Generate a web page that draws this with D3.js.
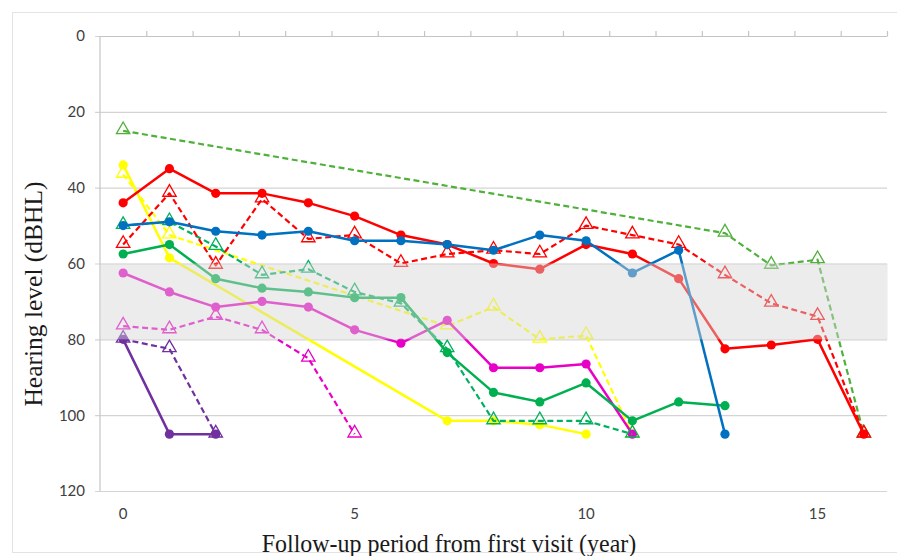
<!DOCTYPE html>
<html>
<head>
<meta charset="utf-8">
<script src="https://cdn.jsdelivr.net/npm/d3@7"></script>
<style>
  html, body { margin: 0; padding: 0; background: #fff; }
  svg { display: block; }
</style>
</head>
<body>
<svg id="chart" width="897" height="556"></svg>
<script>
// Follow-up years (category axis) and y-axis ticks
const years = d3.range(0, 17);
const yTicks = [0, 20, 40, 60, 80, 100, 120];
const xTickLabels = [0, 5, 10, 15];

// Hearing level (dBHL) per follow-up year; null = no measurement that year
const greenDashed  = [25, null, null, null, null, null, null, null, null, null, null, null, null, 52, 60.5, 59, 105];
const yellowDashed = [36.5, 52.5, null, null, null, null, null, 76.5, 71.5, 80, 79, 105];
const yellowSolid  = [34, 58.5, null, null, null, null, null, 101.5, 101.5, 102.5, 105];
const pinkDashed   = [76.5, 77.5, 74, 77.5, 85, 105];
const pinkSolid    = [62.5, 67.5, 71.5, 70, 71.5, 77.5, 81, 75, 87.5, 87.5, 86.5, 105];
const purpleDashed = [80, 82.5, 105];
const purpleSolid  = [80, 105, 105];
const tealDashed   = [50, 49, 55.5, 63, 61.5, 67.5, 70.5, 82.5, 101.5, 101.5, 101.5, 105];
const greenSolid   = [57.5, 55, 64, 66.5, 67.5, 69, 69, 83.5, 94, 96.5, 91.5, 101.5, 96.5, 97.5];
const redDashed    = [55, 41.5, 60.5, 43, 53.5, 52.5, 60, 57.5, 56.5, 57.5, 50, 52.5, 55, 63, 70.5, 74, 105];
const redSolid     = [44, 35, 41.5, 41.5, 44, 47.5, 52.5, 55, 60, 61.5, 55, 57.5, 64, 82.5, 81.5, 80, 105];
const blueSolid    = [50, 49, 51.5, 52.5, 51.5, 54, 54, 55, 56.5, 52.5, 54, 62.5, 56.5, 105];

// Shaded hearing-level range
const bandRange = [60, 80];

const series = [
  { values: greenDashed,  color: "#4fb03a", dashed: true },
  { values: yellowDashed, color: "#ffff00", dashed: true },
  { values: yellowSolid,  color: "#ffff00", dashed: false },
  { values: pinkDashed,   color: "#e800c6", dashed: true },
  { values: pinkSolid,    color: "#e800c6", dashed: false },
  { values: purpleDashed, color: "#7030a0", dashed: true },
  { values: purpleSolid,  color: "#7030a0", dashed: false },
  { values: tealDashed,   color: "#00b060", dashed: true },
  { values: greenSolid,   color: "#00b050", dashed: false },
  { values: redDashed,    color: "#ff0000", dashed: true },
  { values: redSolid,     color: "#ff0000", dashed: false },
  { values: blueSolid,    color: "#0070c0", dashed: false }
];

const svg = d3.select("#chart");
const W = 897;
const plot = { left: 100, right: 887, top: 36, bottom: 491 };

const x = d3.scaleLinear().domain([-0.5, 16.5]).range([plot.left, plot.right]);
const y = d3.scaleLinear().domain([0, 120]).range([plot.top, plot.bottom]);

// outer chart frame
svg.append("rect")
  .attr("x", 12.5).attr("y", 12.5)
  .attr("width", W).attr("height", 540)
  .attr("fill", "none").attr("stroke", "#e3e3e3").attr("stroke-width", 1);

// horizontal gridlines (extending 5px left of the axis as ticks)
const gy = svg.append("g")
  .attr("transform", `translate(${plot.right},0)`)
  .call(d3.axisLeft(y).tickValues(yTicks).tickSize(plot.right - plot.left + 5).tickFormat(""));
gy.select(".domain").remove();
gy.selectAll(".tick line").attr("stroke", "#d4d4d4").attr("stroke-width", 1.2);

// left axis line
svg.append("line")
  .attr("x1", plot.left).attr("x2", plot.left)
  .attr("y1", plot.top).attr("y2", plot.bottom)
  .attr("stroke", "#c4c4c4").attr("stroke-width", 1.2);

// y tick labels
svg.append("g").selectAll("text")
  .data(yTicks)
  .join("text")
  .attr("x", 85)
  .attr("y", d => y(d))
  .attr("dy", "0.36em")
  .attr("text-anchor", "end")
  .attr("font-family", "Lato, 'Open Sans', sans-serif")
  .attr("font-size", 15)
  .attr("fill", "#404040")
  .text(d => d);

// top category axis (value 0) with boundary ticks pointing up
const gx = svg.append("g")
  .attr("transform", `translate(0,${plot.top})`)
  .call(d3.axisTop(x).tickValues(years.map(d => d + 0.5)).tickSize(5).tickSizeOuter(0).tickFormat(""));
gx.select(".domain").attr("stroke", "#c4c4c4").attr("stroke-width", 1.2);
gx.selectAll(".tick line").attr("stroke", "#c4c4c4").attr("stroke-width", 1.2);

// x tick labels along the bottom
svg.append("g").selectAll("text")
  .data(xTickLabels)
  .join("text")
  .attr("x", d => x(d))
  .attr("y", 519)
  .attr("text-anchor", "middle")
  .attr("font-family", "Lato, 'Open Sans', sans-serif")
  .attr("font-size", 15)
  .attr("fill", "#404040")
  .text(d => d);

// series lines and markers
const line = d3.line()
  .x(d => x(d.year))
  .y(d => y(d.value));

const tri = d3.symbol().type(d3.symbolTriangle).size(78);

series.forEach(s => {
  const pts = s.values
    .map((v, i) => ({ year: years[i], value: v }))
    .filter(d => d.value !== null);
  const g = svg.append("g");
  g.append("path")
    .datum(pts)
    .attr("d", line)
    .attr("fill", "none")
    .attr("stroke", s.color)
    .attr("stroke-width", s.dashed ? 2.2 : 2.5)
    .attr("stroke-linejoin", "round")
    .attr("stroke-dasharray", s.dashed ? "6,3.5" : null);
  if (s.dashed) {
    g.selectAll("path.mk")
      .data(pts)
      .join("path")
      .attr("class", "mk")
      .attr("d", tri)
      .attr("transform", d => `translate(${x(d.year)},${y(d.value) - 1})`)
      .attr("fill", "none")
      .attr("stroke", s.color)
      .attr("stroke-width", 1.3);
  } else {
    g.selectAll("circle")
      .data(pts)
      .join("circle")
      .attr("cx", d => x(d.year))
      .attr("cy", d => y(d.value))
      .attr("r", 4.6)
      .attr("fill", s.color);
  }
});

// translucent shaded band over the 60–80 dBHL range
svg.append("rect")
  .attr("x", plot.left + 0.6)
  .attr("y", y(bandRange[0]))
  .attr("width", plot.right - plot.left)
  .attr("height", y(bandRange[1]) - y(bandRange[0]))
  .attr("fill", "rgb(212,212,212)")
  .attr("fill-opacity", 0.45);

// axis titles
svg.append("text")
  .attr("transform", `translate(42,294) rotate(-90)`)
  .attr("text-anchor", "middle")
  .attr("font-family", "'Liberation Serif', 'Times New Roman', serif")
  .attr("font-size", 25.5)
  .attr("fill", "#1a1a1a")
  .text("Hearing level (dBHL)");

svg.append("text")
  .attr("transform", "translate(449,552) scale(0.94,1)")
  .attr("text-anchor", "middle")
  .attr("font-family", "'Liberation Serif', 'Times New Roman', serif")
  .attr("font-size", 25.5)
  .attr("fill", "#1a1a1a")
  .text("Follow-up period from first visit (year)");
</script>
</body>
</html>
